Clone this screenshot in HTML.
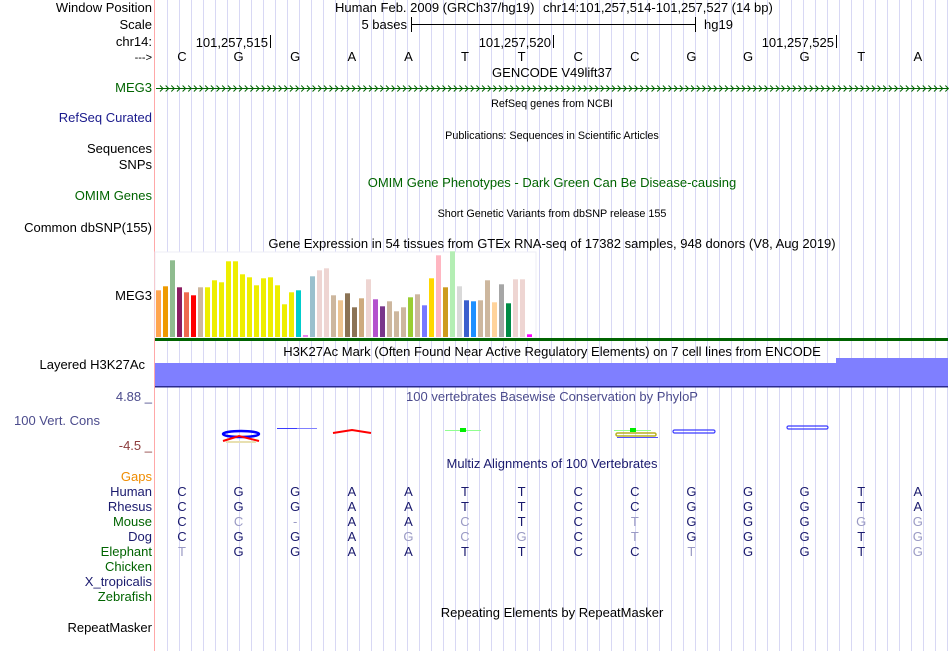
<!DOCTYPE html>
<html><head><meta charset="utf-8"><style>
html,body{margin:0;padding:0;background:#fff;width:950px;height:651px;overflow:hidden}
svg text{font-family:"Liberation Sans",Arial,sans-serif}
</style></head><body>
<svg id="main" width="950" height="651" xmlns="http://www.w3.org/2000/svg">
<g id="grid"></g>
<line x1="154.5" y1="0" x2="154.5" y2="651" stroke="#ffa8a8" stroke-width="1"/>

<g font-size="13" text-anchor="end">
<text x="152" y="12" fill="#000">Window Position</text>
<text x="152" y="29" fill="#000">Scale</text>
<text x="152" y="46" fill="#000">chr14:</text>
<text x="152" y="61" fill="#000" font-size="11">---&gt;</text>
<text x="152" y="92" fill="#006400">MEG3</text>
<text x="152" y="122" fill="#1a1a8c">RefSeq Curated</text>
<text x="152" y="153" fill="#000">Sequences</text>
<text x="152" y="169" fill="#000">SNPs</text>
<text x="152" y="200" fill="#006400">OMIM Genes</text>
<text x="152" y="232" fill="#000">Common dbSNP(155)</text>
<text x="152" y="300" fill="#000">MEG3</text>
<text x="145" y="369" fill="#000">Layered H3K27Ac</text>
<text x="152" y="401" fill="#4b4b8c">4.88 _</text>
<text x="100" y="425" fill="#4b4b8c">100 Vert. Cons</text>
<text x="152" y="450" fill="#8c3c3c">-4.5 _</text>
<text x="152" y="481" fill="#ef8c00">Gaps</text>
<text x="152" y="496" fill="#1a1a6e">Human</text>
<text x="152" y="511" fill="#1a1a6e">Rhesus</text>
<text x="152" y="526" fill="#006400">Mouse</text>
<text x="152" y="541" fill="#1a1a6e">Dog</text>
<text x="152" y="556" fill="#006400">Elephant</text>
<text x="152" y="571" fill="#006400">Chicken</text>
<text x="152" y="586" fill="#1a1a6e">X_tropicalis</text>
<text x="152" y="601" fill="#006400">Zebrafish</text>
<text x="152" y="632" fill="#000">RepeatMasker</text>
</g>

<g font-size="13" fill="#000">
<text x="335" y="12">Human Feb. 2009 (GRCh37/hg19)</text>
<text x="543" y="12">chr14:101,257,514-101,257,527 (14 bp)</text>
<text x="407" y="29" text-anchor="end">5 bases</text>
<line x1="411" y1="24.5" x2="695" y2="24.5" stroke="#000"/>
<line x1="411.5" y1="17" x2="411.5" y2="32" stroke="#000"/>
<line x1="695.5" y1="17" x2="695.5" y2="32" stroke="#000"/>
<text x="704" y="29">hg19</text>
<text x="268" y="47" text-anchor="end">101,257,515</text>
<line x1="270.5" y1="35" x2="270.5" y2="48" stroke="#000"/>
<text x="551" y="47" text-anchor="end">101,257,520</text>
<line x1="553.5" y1="35" x2="553.5" y2="48" stroke="#000"/>
<text x="834" y="47" text-anchor="end">101,257,525</text>
<line x1="836.5" y1="35" x2="836.5" y2="48" stroke="#000"/>
</g>
<g id="bases" font-size="13" text-anchor="middle"></g>

<g font-size="13" text-anchor="middle">
<text x="552" y="77" fill="#000">GENCODE V49lift37</text>
<text x="552" y="107" fill="#000" font-size="10.8">RefSeq genes from NCBI</text>
<text x="552" y="139" fill="#000" font-size="10.8">Publications: Sequences in Scientific Articles</text>
<text x="552" y="187" fill="#006400">OMIM Gene Phenotypes - Dark Green Can Be Disease-causing</text>
<text x="552" y="217" fill="#000" font-size="10.8">Short Genetic Variants from dbSNP release 155</text>
<text x="552" y="248" fill="#000">Gene Expression in 54 tissues from GTEx RNA-seq of 17382 samples, 948 donors (V8, Aug 2019)</text>
<text x="552" y="356" fill="#000">H3K27Ac Mark (Often Found Near Active Regulatory Elements) on 7 cell lines from ENCODE</text>
<text x="552" y="401" fill="#4b4b8c">100 vertebrates Basewise Conservation by PhyloP</text>
<text x="552" y="468" fill="#1a1a6e">Multiz Alignments of 100 Vertebrates</text>
<text x="552" y="617" fill="#000">Repeating Elements by RepeatMasker</text>
</g>

<g id="meg3">
<line x1="156" y1="88.5" x2="948" y2="88.5" stroke="#006400" stroke-width="1"/>
</g>

<rect x="155" y="252" width="381" height="86" fill="#fff" stroke="#ececf6"/>
<g id="gtex"></g>
<rect x="155" y="338" width="793" height="3" fill="#006400"/>

<g>
<rect x="155" y="363" width="681" height="23" fill="#7f7fff"/>
<rect x="836" y="358" width="112" height="28" fill="#7f7fff"/>
<rect x="155" y="386" width="793" height="1.5" fill="#2a2a8c"/>
</g>

<g>
<ellipse cx="241" cy="434" rx="18" ry="3" fill="none" stroke="#0000ff" stroke-width="2.5"/>
<path d="M223 441 L239 436 L259 441" fill="none" stroke="#ff0000" stroke-width="2"/>
<rect x="226" y="441" width="30" height="2" fill="#e8e0b0"/>
<line x1="277" y1="428.5" x2="297" y2="428.5" stroke="#3a3aff"/>
<line x1="297" y1="428.5" x2="317" y2="428.5" stroke="#8080ff"/>
<path d="M333 433 L352 430 L371 433" fill="none" stroke="#ff0000" stroke-width="2"/>
<line x1="445" y1="430.5" x2="481" y2="430.5" stroke="#90ff90"/>
<rect x="460" y="428" width="6" height="4" fill="#00ee00"/>
<line x1="614" y1="430.5" x2="651" y2="430.5" stroke="#90ff90"/>
<rect x="630" y="428" width="6" height="4" fill="#00ee00"/>
<rect x="616" y="433" width="40" height="3" rx="1.5" fill="none" stroke="#b8b020" stroke-width="1.5"/>
<line x1="617" y1="437.5" x2="658" y2="437.5" stroke="#5050ff"/>
<rect x="673" y="430" width="42" height="3" rx="1.5" fill="none" stroke="#3a3aff" stroke-width="1.2"/>
<rect x="787" y="426" width="41" height="3" rx="1.5" fill="none" stroke="#3a3aff" stroke-width="1.2"/>
</g>

<g id="align" font-size="13" text-anchor="middle"></g>

<script>
var NS='http://www.w3.org/2000/svg';
function mk(tag,attrs,parent){var e=document.createElementNS(NS,tag);for(var k in attrs)e.setAttribute(k,attrs[k]);parent.appendChild(e);return e;}
var grid=document.getElementById('grid');
for(var gx=167;gx<=948;gx+=12){mk('line',{x1:gx+0.5,y1:0,x2:gx+0.5,y2:651,stroke:'#d8d8f4','stroke-width':1},grid);}
var bases="CGGAATTCCGGGTA".split('');
function baseX(i){return 182+56.6*i;}
var bg=document.getElementById('bases');
bases.forEach(function(b,i){var t=mk('text',{x:baseX(i),y:61,fill:'#000'},bg);t.textContent=b;

});
var meg=document.getElementById('meg3');
for(var cx=160;cx<946;cx+=5.65){mk('path',{d:'M'+cx+' 85.5 L'+(cx+3)+' 88.5 L'+cx+' 91.5',fill:'none',stroke:'#006400','stroke-width':1},meg);}
</script>
<script>
var tissues=["Adipose-Subcutaneous","Adipose-Visceral","Adrenal","Artery-Aorta","Artery-Coronary","Artery-Tibial","Bladder","Brain-Amygdala","Brain-ACC","Brain-Caudate","Brain-Cerebellar","Brain-Cerebellum","Brain-Cortex","Brain-FrontalCortex","Brain-Hippocampus","Brain-Hypothalamus","Brain-Nucleus","Brain-Putamen","Brain-SpinalCord","Brain-SubstantiaNigra","Breast","Cells-Lymphocytes","Cells-Fibroblasts","Cervix-Ecto","Cervix-Endo","Colon-Sigmoid","Colon-Transverse","Esoph-Junction","Esoph-Mucosa","Esoph-Muscularis","FallopianTube","Heart-Atrial","Heart-LeftVentricle","Kidney-Cortex","Kidney-Medulla","Liver","Lung","SalivaryGland","Muscle","Nerve-Tibial","Ovary","Pancreas","Pituitary","Prostate","Skin-NotExposed","Skin-Exposed","SmallIntestine","Spleen","Stomach","Testis","Thyroid","Uterus","Vagina","WholeBlood"];
var values=[46.7,50.7,76.7,49.7,44.7,41.7,49.7,49.7,56.7,54.7,75.7,75.7,62.7,59.7,51.7,58.7,59.7,51.7,32.7,44.7,46.7,2,60.7,66.7,68.7,41.7,36.7,43.7,29.7,38.7,57.7,37.7,30.7,35.7,25.7,29.7,39.7,42.7,31.7,58.7,81.7,49.7,85.7,50.7,36.7,35.7,36.7,56.7,34.7,52.7,33.7,57.7,57.7,2.7];
var colors=["#FFA54F","#EE9A00","#8FBC8F","#8B1C62","#EE6A50","#FF0000","#CDB79E","#EEEE00","#EEEE00","#EEEE00","#EEEE00","#EEEE00","#EEEE00","#EEEE00","#EEEE00","#EEEE00","#EEEE00","#EEEE00","#EEEE00","#EEEE00","#00CDCD","#EE82EE","#9AC0CD","#EED5D2","#EED5D2","#CDB79E","#EEC591","#8B7355","#8B7355","#CDAA7D","#EED5D2","#B452CD","#7A378B","#CDB79E","#CDB79E","#CDB79E","#9ACD32","#CDB79E","#7777FF","#FFD700","#FFB6C1","#CD9B1D","#B4EEB4","#D9D9D9","#3A5FCD","#1E90FF","#CDB79E","#CDB79E","#FFD39B","#A6A6A6","#008B45","#EED5D2","#EED5D2","#FF00FF"];
function xBar(i){return 156+i*7;}
function yVal(v){return 337-v;}
var gt=document.getElementById('gtex');
values.forEach(function(v,i){var r=mk('rect',{x:xBar(i),y:yVal(v),width:5,height:337-yVal(v),fill:colors[i]},gt);

});
</script>
<script>
var species=["human","rhesus","mouse","dog","elephant"];
var seqs=["CGGAATTCCGGGTA","CGGAATTCCGGGTA","CC-AACTCTGGGGG","CGGAGCGCTGGGTG","TGGAATTCCTGGTG"];
var ag=document.getElementById('align');
seqs.forEach(function(s,r){s.split('').forEach(function(c,i){
var same=c===seqs[0][i];
var t=mk('text',{x:baseX(i),y:496+15*r,fill:same?'#1a1a6e':'#9a9ac4'},ag);t.textContent=c;

});});
</script>
</svg>
</body></html>
